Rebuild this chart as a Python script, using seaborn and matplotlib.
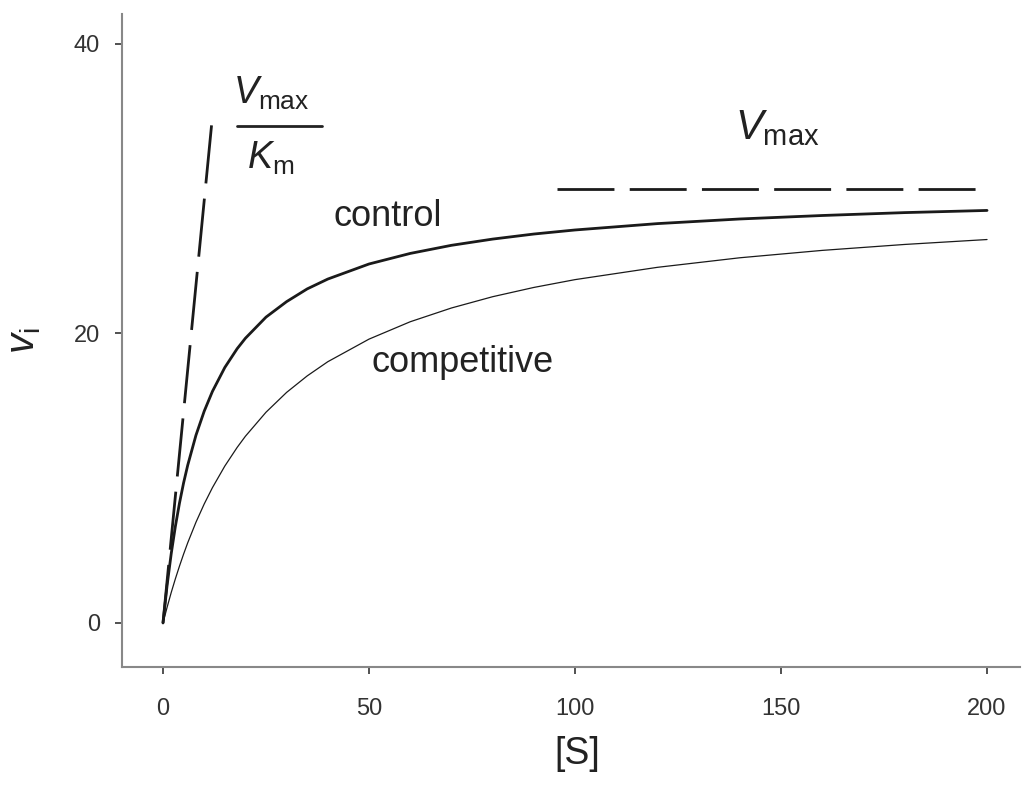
import matplotlib
matplotlib.use("Agg")
import matplotlib.pyplot as plt
import seaborn as sns
import pandas as pd
from matplotlib.lines import Line2D

# Substrate concentrations and velocities
s_vals = [0, 1, 2, 3, 4, 5, 6, 8, 10, 12, 15, 18, 20, 25, 30, 35, 40, 50, 60,
          70, 80, 90, 100, 120, 140, 160, 180, 200]
v_control = [0, 2.61, 4.8, 6.67, 8.28, 9.68, 10.9, 12.97, 14.63, 16.0, 17.65,
             18.95, 19.67, 21.13, 22.2, 23.08, 23.76, 24.8, 25.53, 26.09, 26.52,
             26.87, 27.15, 27.59, 27.91, 28.15, 28.35, 28.5]
v_competitive = [0, 1.09, 2.11, 3.05, 3.93, 4.76, 5.54, 6.96, 8.22, 9.35, 10.84,
                 12.13, 12.9, 14.56, 15.93, 17.07, 18.05, 19.61, 20.81, 21.76,
                 22.54, 23.18, 23.72, 24.57, 25.23, 25.74, 26.15, 26.49]

# Guide lines
initial_slope_s = [0, 12.1]
initial_slope_v = [0, 35.3]
vmax_s = [95.6, 197.3]
vmax_v = [30.0, 30.0]

x_ticks = [0, 50, 100, 150, 200]
y_ticks = [0, 20, 40]

sns.set_theme(style="ticks")
plt.rcParams["font.family"] = ["Liberation Sans", "DejaVu Sans"]
plt.rcParams["mathtext.fontset"] = "custom"
plt.rcParams["mathtext.rm"] = "Liberation Sans"
plt.rcParams["mathtext.it"] = "Liberation Sans:italic"
plt.rcParams["lines.scale_dashes"] = False

fig = plt.figure(figsize=(10.25, 7.97), dpi=100)
ax = fig.add_axes([122 / 1025, 1 - 667 / 797, (1020 - 122) / 1025, (667 - 14) / 797])

df_c = pd.DataFrame({"S": s_vals, "v": v_control})
df_i = pd.DataFrame({"S": s_vals, "v": v_competitive})
sns.lineplot(data=df_c, x="S", y="v", ax=ax, color="#1a1a1a", linewidth=2.0)
sns.lineplot(data=df_i, x="S", y="v", ax=ax, color="#1a1a1a", linewidth=0.9)

df_s = pd.DataFrame({"S": initial_slope_s, "v": initial_slope_v})
df_m = pd.DataFrame({"S": vmax_s, "v": vmax_v})
sns.lineplot(data=df_s, x="S", y="v", ax=ax, color="#1a1a1a", linewidth=2.0)
sns.lineplot(data=df_m, x="S", y="v", ax=ax, color="#1a1a1a", linewidth=2.0)
ax.lines[2].set_dashes((42, 11))
ax.lines[3].set_dashes((41, 11))

ax.set_xlim(-9.95, 208)
ax.set_ylim(-3.04, 42.07)
ax.set_xticks(x_ticks)
ax.set_yticks(y_ticks)
ax.set_xticklabels([str(t) for t in x_ticks])
ax.set_yticklabels([str(t) for t in y_ticks])
ax.tick_params(axis="both", labelsize=17, colors="#333333", length=5, width=1.2)
ax.tick_params(axis="x", pad=17)
ax.tick_params(axis="y", pad=11)
for sp in ["top", "right"]:
    ax.spines[sp].set_visible(False)
for sp in ["left", "bottom"]:
    ax.spines[sp].set_color("#888888")
    ax.spines[sp].set_linewidth(1.5)

ax.set_xlabel("[S]", fontsize=27, color="#222222", labelpad=16)
ax.xaxis.set_label_coords(0.507, -0.105)
ax.set_ylabel(r"$\mathit{v}_{\mathrm{i}}$", fontsize=29, color="#222222", labelpad=22)

ax.text(54.6, 28.1, "control", fontsize=26, color="#222222", ha="center", va="center")
ax.text(72.6, 18.0, "competitive", fontsize=26, color="#222222", ha="center", va="center")
ax.text(149, 34.2, r"$\mathit{V}_{\mathrm{max}}$", fontsize=30, color="#222222",
        ha="center", va="center")
ax.text(26.2, 36.6, r"$\mathit{V}_{\mathrm{max}}$", fontsize=27, color="#222222",
        ha="center", va="center")
ax.text(26.2, 32.1, r"$\mathit{K}_{\mathrm{m}}$", fontsize=27, color="#222222",
        ha="center", va="center")
ax.add_line(Line2D([18.0, 38.6], [34.35, 34.35], color="#222222", linewidth=2.0))

fig.savefig("out.png", dpi=100)
